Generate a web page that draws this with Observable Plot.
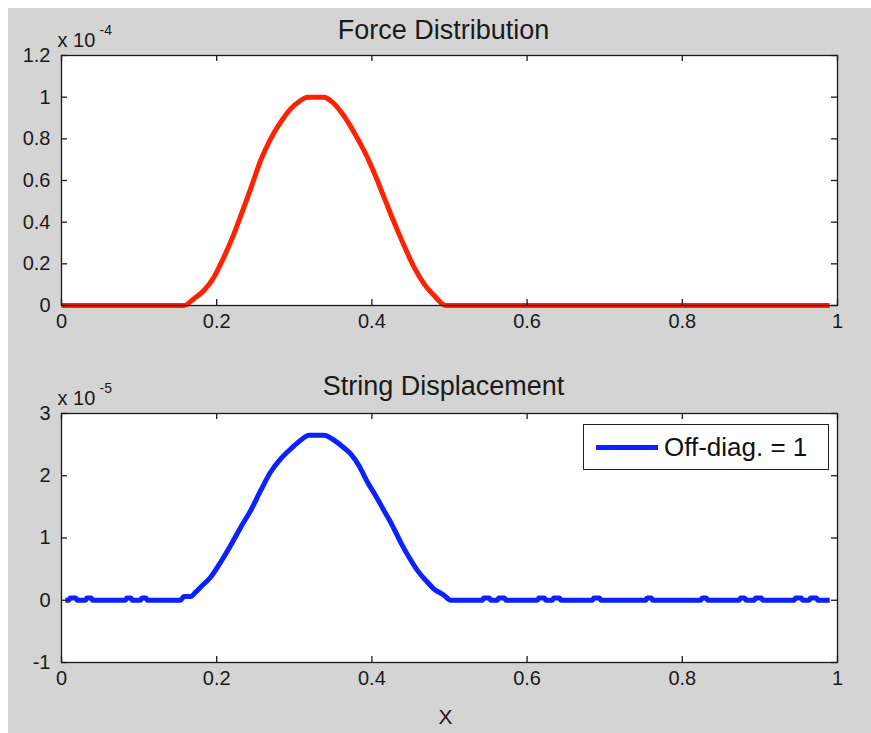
<!DOCTYPE html>
<html>
<head>
<meta charset="utf-8">
<script src="https://cdn.jsdelivr.net/npm/d3@7"></script>
<script src="https://cdn.jsdelivr.net/npm/@observablehq/plot@0.6"></script>
<style>
  html, body { margin: 0; padding: 0; background: #fff; }
  #fig { position: relative; width: 871px; height: 733px; background: #fff; overflow: hidden;
         font-family: "Liberation Sans", Arial, Helvetica, sans-serif; }
  #bg { position: absolute; left: 8px; top: 8px; right: 0; bottom: 0; background: #d4d4d4; }
  .panel { position: absolute; left: 0; }
  #legend { position: absolute; left: 583px; top: 424px; width: 244px; height: 44px;
            border: 1px solid #222; background: #fff; }
  #legend .swatch { position: absolute; left: 12px; top: 20px; width: 62px; height: 5px; background: #0a22ff; }
  #legend .lab { position: absolute; left: 80px; top: 6px; font-size: 26px; line-height: 32px; color: #111; white-space: nowrap; }
</style>
</head>
<body>
<div id="fig">
  <div id="bg"></div>
  <div id="top" class="panel" style="top:0"></div>
  <div id="bottom" class="panel" style="top:360px"></div>
  <div id="legend"><div class="swatch"></div><div class="lab">Off-diag. = 1</div></div>
</div>
<script>
// ---- Data ----
// Top panel: Force Distribution (values in units of 1e-4)
const forceX = [0, 0.1577, 0.1706, 0.1835, 0.1964, 0.2093, 0.2222, 0.2351, 0.2437, 0.2566, 0.2695, 0.2824,
  0.2953, 0.3082, 0.3168, 0.3383, 0.3491, 0.3620, 0.3769, 0.3898, 0.4027, 0.4156, 0.4285, 0.4414,
  0.4543, 0.4672, 0.4801, 0.4952, 0.99];
const forceY = [0, 0, 0.032, 0.072, 0.136, 0.232, 0.344, 0.472, 0.560, 0.696, 0.800, 0.880,
  0.944, 0.984, 1.0, 1.0, 0.976, 0.920, 0.832, 0.744, 0.640, 0.520, 0.400, 0.288,
  0.184, 0.104, 0.048, 0, 0];

// Bottom panel: String Displacement (values in units of 1e-5)
const dispX = [0.005, 0.1534, 0.1577, 0.1663, 0.1728, 0.1792, 0.1921, 0.2050, 0.2179, 0.2308, 0.2437,
  0.2566, 0.2695, 0.2824, 0.2953, 0.3082, 0.3189, 0.3383, 0.3490, 0.3619, 0.3727, 0.3834, 0.3942,
  0.4049, 0.4156, 0.4264, 0.4371, 0.4479, 0.4586, 0.4694, 0.4801, 0.4930, 0.5016, 0.99];
const dispY = [0, 0, 0.06, 0.06, 0.13, 0.21, 0.37, 0.61, 0.88, 1.17, 1.44,
  1.76, 2.06, 2.27, 2.43, 2.57, 2.65, 2.65, 2.59, 2.47, 2.35, 2.16, 1.90,
  1.68, 1.44, 1.20, 0.93, 0.69, 0.48, 0.32, 0.18, 0.08, 0, 0];
// small numerical ripples on the flat parts
const rippleStart = [0.0095, 0.031, 0.0825, 0.102, 0.5425, 0.5618, 0.6134, 0.6327, 0.6843, 0.753, 0.824, 0.8734, 0.8928, 0.9443, 0.9637];
const rippleEnd   = [0.020, 0.040, 0.091, 0.1105, 0.553, 0.5725, 0.624, 0.6435, 0.695, 0.7617, 0.8326, 0.882, 0.9035, 0.955, 0.9745];
const rippleHeight = [0.035, 0.035, 0.035, 0.035, 0.035, 0.035, 0.035, 0.035, 0.035, 0.035, 0.035, 0.035, 0.035, 0.035, 0.035];

const xTicks = [0, 0.2, 0.4, 0.6, 0.8, 1];
const forceTicks = [0, 0.2, 0.4, 0.6, 0.8, 1, 1.2];
const dispTicks = [-1, 0, 1, 2, 3];

// ---- Build tables ----
const forceData = forceX.map((x, i) => ({x, y: forceY[i]}));
let dispData = dispX.map((x, i) => ({x, y: dispY[i]}));
rippleStart.forEach((s, i) => {
  const e = rippleEnd[i], h = rippleHeight[i];
  dispData.push({x: s, y: 0}, {x: s + 0.0015, y: h}, {x: e - 0.0015, y: h}, {x: e, y: 0});
});
dispData.sort((a, b) => a.x - b.x);

const FONT = '"Liberation Sans", Arial, Helvetica, sans-serif';
const INK = "#1a1a1a";

function panel({data, color, yDomain, yTicks, height, marginTop, marginBottom, title, titleDy, expoLabel, xlabel}) {
  const marginLeft = 61, marginRight = 34, width = 871;
  const plotW = width - marginLeft - marginRight;
  const plotH = height - marginTop - marginBottom;
  const marks = [
    Plot.frame({fill: "white", stroke: null}),
    Plot.line(data, {x: "x", y: "y", stroke: color, strokeWidth: 5, curve: "monotone-x", strokeLinejoin: "round", strokeLinecap: "butt"}),
    Plot.frame({stroke: INK, strokeWidth: 1.3}),
    Plot.tickX(xTicks, {x: d => d, stroke: INK, strokeWidth: 1.3, insetTop: plotH - 6}),
    Plot.tickX(xTicks, {x: d => d, stroke: INK, strokeWidth: 1.3, insetBottom: plotH - 6}),
    Plot.tickY(yTicks, {y: d => d, stroke: INK, strokeWidth: 1.3, insetRight: plotW - 6}),
    Plot.tickY(yTicks, {y: d => d, stroke: INK, strokeWidth: 1.3, insetLeft: plotW - 6}),
    Plot.axisX(xTicks, {tickSize: 0, tickPadding: 8, tickFormat: d => String(d), label: null, fill: INK}),
    Plot.axisY(yTicks, {tickSize: 0, tickPadding: 11, tickFormat: d => String(d), label: null, fill: INK}),
    Plot.text([title], {frameAnchor: "top", lineAnchor: "middle", dx: -6, dy: titleDy, fontSize: 27, fill: INK}),
    Plot.text(["x 10"], {frameAnchor: "top-left", lineAnchor: "middle", textAnchor: "start", dx: -4, dy: -15, fontSize: 20, fill: INK}),
    Plot.text([expoLabel], {frameAnchor: "top-left", lineAnchor: "middle", textAnchor: "start", dx: 38, dy: -25, fontSize: 14, fill: INK})
  ];
  if (xlabel) marks.push(Plot.text([xlabel], {frameAnchor: "bottom", lineAnchor: "middle", dx: -4, dy: 55, fontSize: 21, fill: INK}));
  return Plot.plot({
    width, height, marginLeft, marginRight, marginTop, marginBottom,
    x: {domain: [0, 1]},
    y: {domain: yDomain},
    style: {background: "transparent", fontFamily: FONT, fontSize: "20px", color: INK, overflow: "visible"},
    marks
  });
}

document.getElementById("top").append(panel({
  data: forceData, color: "#ff2200", yDomain: [0, 1.2], yTicks: forceTicks,
  height: 360, marginTop: 55, marginBottom: 55,
  title: "Force Distribution", titleDy: -25, expoLabel: "-4"
}));
document.getElementById("bottom").append(panel({
  data: dispData, color: "#0a22ff", yDomain: [-1, 3], yTicks: dispTicks,
  height: 373, marginTop: 53, marginBottom: 71,
  title: "String Displacement", titleDy: -27, expoLabel: "-5", xlabel: "X"
}));
</script>
</body>
</html>
